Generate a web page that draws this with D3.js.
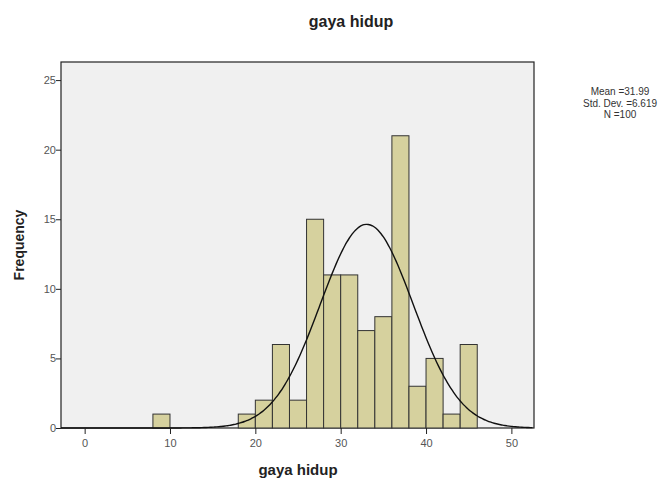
<!DOCTYPE html>
<html>
<head>
<meta charset="utf-8">
<script src="https://cdn.jsdelivr.net/npm/d3@7"></script>
<style>
  body { margin: 0; background: #fff; }
  text { font-family: "Liberation Sans", Arial, sans-serif; }
</style>
</head>
<body>
<div class="container"></div>
<script>
// histogram bins (lower edge, upper edge) and counts
var binStarts = [8, 18, 20, 22, 24, 26, 28, 30, 32, 34, 36, 38, 40, 42, 44];
var binWidth = 2;
var counts = [1, 1, 2, 6, 2, 15, 11, 11, 7, 8, 21, 3, 5, 1, 6];
var xTicks = [0, 10, 20, 30, 40, 50];
var yTicks = [0, 5, 10, 15, 20, 25];
var statLines = ["Mean =31.99", "Std. Dev. =6.619", "N =100"];
// normal curve as drawn in the picture
var curveCenter = 33.05;
var curveSpread = 5.45;
var curveTotal = 100;

const WIDTH = 668;
const HEIGHT = 484;
const LEFT = 61, RIGHT = 534, TOP = 62, BOTTOM = 428;

var svg = d3.select('.container').append('svg')
  .attr('width', WIDTH)
  .attr('height', HEIGHT);

var xScale = d3.scaleLinear()
  .domain([-2.77, 52.65])
  .range([LEFT, RIGHT]);

var yScale = d3.scaleLinear()
  .domain([0, 26.3])
  .range([BOTTOM, TOP]);

// plot frame
svg.append('rect')
  .attr('x', LEFT).attr('y', TOP)
  .attr('width', RIGHT - LEFT).attr('height', BOTTOM - TOP)
  .attr('fill', '#f0f0f0')
  .attr('stroke', '#222')
  .attr('stroke-width', 1.2);

// bars
svg.append('g').selectAll('rect')
  .data(binStarts)
  .enter().append('rect')
  .attr('x', function(d){ return xScale(d); })
  .attr('y', function(d, i){ return yScale(counts[i]); })
  .attr('width', function(d){ return xScale(d + binWidth) - xScale(d); })
  .attr('height', function(d, i){ return yScale(0) - yScale(counts[i]); })
  .attr('fill', '#d6d19e')
  .attr('stroke', '#333')
  .attr('stroke-width', 1);

// normal curve
var curvePts = d3.range(-2.77, 52.66, 0.25);
var line = d3.line()
  .x(function(v){ return xScale(v); })
  .y(function(v){
    var z = (v - curveCenter) / curveSpread;
    return yScale(curveTotal * binWidth / (curveSpread * Math.sqrt(2 * Math.PI)) * Math.exp(-0.5 * z * z));
  })
  .curve(d3.curveBasis);

svg.append('path')
  .datum(curvePts)
  .attr('d', line)
  .attr('fill', 'none')
  .attr('stroke', '#111')
  .attr('stroke-width', 1.4);

// axes
var xAxis = d3.axisBottom(xScale).tickValues(xTicks).tickSize(6).tickSizeOuter(0);
var yAxis = d3.axisLeft(yScale).tickValues(yTicks).tickSize(5).tickSizeOuter(0);

var gx = svg.append('g')
  .attr('transform', 'translate(0,' + BOTTOM + ')')
  .call(xAxis);
gx.select('.domain').remove();
gx.selectAll('line').attr('stroke', '#222');
gx.selectAll('text').attr('font-size', 11).attr('fill', '#555').attr('dy', '0.9em');

var gy = svg.append('g')
  .attr('transform', 'translate(' + LEFT + ',0)')
  .call(yAxis);
gy.select('.domain').remove();
gy.selectAll('line').attr('stroke', '#222');
gy.selectAll('text').attr('font-size', 11).attr('fill', '#555').attr('x', -5);

// titles
svg.append('text')
  .attr('x', 351).attr('y', 27)
  .attr('text-anchor', 'middle')
  .attr('font-size', 16).attr('font-weight', 'bold').attr('fill', '#222')
  .text('gaya hidup');

svg.append('text')
  .attr('x', 298).attr('y', 475)
  .attr('text-anchor', 'middle')
  .attr('font-size', 15).attr('font-weight', 'bold').attr('fill', '#222')
  .text('gaya hidup');

svg.append('text')
  .attr('transform', 'translate(24,245) rotate(-90)')
  .attr('text-anchor', 'middle')
  .attr('font-size', 14).attr('font-weight', 'bold').attr('fill', '#222')
  .text('Frequency');

// stats box
svg.append('g').selectAll('text')
  .data(statLines)
  .enter().append('text')
  .attr('x', 620)
  .attr('y', function(d, i){ return 95 + i * 11.5; })
  .attr('text-anchor', 'middle')
  .attr('font-size', 10).attr('fill', '#333')
  .text(function(d){ return d; });
</script>
</body>
</html>
